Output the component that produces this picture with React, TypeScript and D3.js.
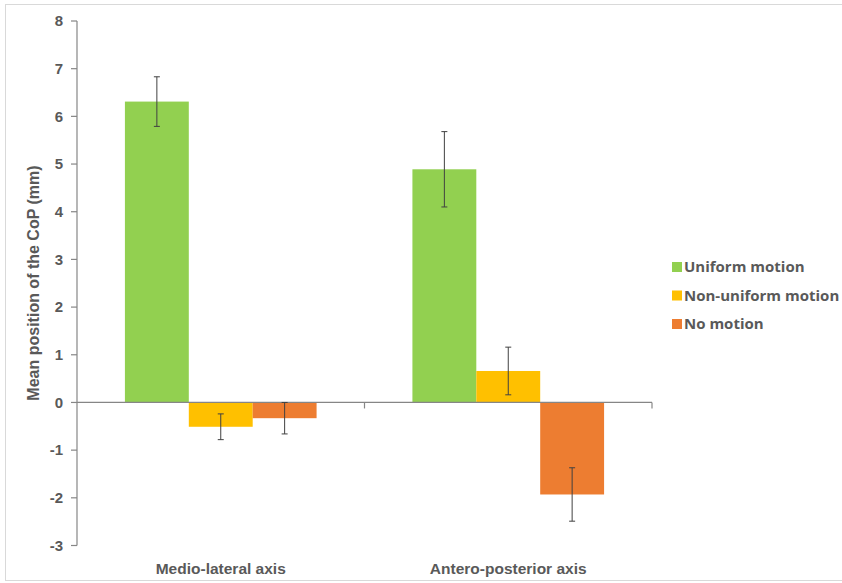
import React from "react";
import * as d3 from "d3";

const categories = ["Medio-lateral axis", "Antero-posterior axis"];
const seriesNames = ["Uniform motion", "Non-uniform motion", "No motion"];
const seriesColors = ["#92D050", "#FFC000", "#ED7D31"];
const uniformValues = [6.31, 4.89];
const nonUniformValues = [-0.51, 0.66];
const noMotionValues = [-0.33, -1.93];
const uniformErr = [0.52, 0.79];
const nonUniformErr = [0.27, 0.5];
const noMotionErr = [0.33, 0.56];
const yTicks = [-3, -2, -1, 0, 1, 2, 3, 4, 5, 6, 7, 8];

const W = 842;
const H = 583;
const axisX0 = 77;
const axisX1 = 652;
const yTop = 21;
const yBottom = 545.5;

export default function App() {
  const y = d3.scaleLinear().domain([-3, 8]).range([yBottom, yTop]);
  const x0 = d3.scaleBand<string>().domain(categories).range([axisX0, axisX1]).paddingInner(0).paddingOuter(0);
  const groupW = x0.bandwidth() * (2 / 3);
  const x1 = d3
    .scaleBand<string>()
    .domain(seriesNames)
    .range([0, groupW])
    .padding(0);
  const values = [uniformValues, nonUniformValues, noMotionValues];
  const errs = [uniformErr, nonUniformErr, noMotionErr];
  const textColor = "#595959";
  const axisColor = "#868686";
  const font = "'Liberation Sans', Arial, sans-serif";

  return (
    <svg
      width={W}
      height={H}
      style={{ position: "absolute", left: 0, top: 0, background: "#fff" }}
      fontFamily={font}
    >
      <rect x={5.5} y={4.5} width={W + 10} height={576} fill="#fff" stroke="#d9d9d9" />
      {/* bars */}
      {categories.map((c, ci) => {
        const gx = (x0(c) as number) + (x0.bandwidth() - groupW) / 2;
        return (
          <g key={c}>
            {seriesNames.map((s, si) => {
              const v = values[si][ci];
              const bx = gx + (x1(s) as number);
              const top = y(Math.max(0, v));
              const h = Math.abs(y(v) - y(0));
              return (
                <rect key={s} x={bx} y={top} width={x1.bandwidth()} height={h} fill={seriesColors[si]} />
              );
            })}
          </g>
        );
      })}
      {/* x axis */}
      <line x1={axisX0} x2={axisX1} y1={y(0)} y2={y(0)} stroke={axisColor} strokeWidth={1.2} />
      {categories.map((c, ci) => {
        const tx = (x0(c) as number) + x0.bandwidth();
        return <line key={c} x1={tx} x2={tx} y1={y(0)} y2={y(0) + 6} stroke={axisColor} strokeWidth={1.2} />;
      })}
      {/* error bars */}
      {categories.map((c, ci) => {
        const gx = (x0(c) as number) + (x0.bandwidth() - groupW) / 2;
        return (
          <g key={c}>
            {seriesNames.map((s, si) => {
              const v = values[si][ci];
              const e = errs[si][ci];
              const cx = gx + (x1(s) as number) + x1.bandwidth() / 2;
              const ya = y(v + e);
              const yb = y(v - e);
              return (
                <g key={s} stroke="#404040" strokeWidth={1}>
                  <line x1={cx} x2={cx} y1={ya} y2={yb} />
                  <line x1={cx - 3} x2={cx + 3} y1={ya} y2={ya} />
                  <line x1={cx - 3} x2={cx + 3} y1={yb} y2={yb} />
                </g>
              );
            })}
          </g>
        );
      })}
      {/* y axis */}
      <line x1={axisX0} x2={axisX0} y1={yTop} y2={yBottom} stroke={axisColor} strokeWidth={1.2} />
      {yTicks.map((t) => (
        <g key={t}>
          <line x1={axisX0 - 6} x2={axisX0} y1={y(t)} y2={y(t)} stroke={axisColor} strokeWidth={1.2} />
          <text
            x={63}
            y={y(t)}
            dy="0.35em"
            textAnchor="end"
            fontSize={15}
            fontWeight="bold"
            fill={textColor}
          >
            {t}
          </text>
        </g>
      ))}
      {/* y axis title */}
      <text
        transform={`translate(39, ${283}) rotate(-90)`}
        textAnchor="middle"
        fontSize={16}
        fontWeight="bold"
        fill={textColor}
      >
        Mean position of the CoP (mm)
      </text>
      {/* category labels */}
      {categories.map((c) => (
        <text
          key={c}
          x={(x0(c) as number) + x0.bandwidth() / 2}
          y={574}
          textAnchor="middle"
          fontSize={15.5}
          fontWeight="bold"
          fill={textColor}
        >
          {c}
        </text>
      ))}
      {/* legend */}
      {seriesNames.map((s, si) => (
        <g key={s} transform={`translate(672, ${267 + si * 28.5})`}>
          <rect x={0} y={-5} width={10} height={10} fill={seriesColors[si]} />
          <text x={12} y={0} dy="0.35em" fontSize={15} fontWeight="bold" fill={textColor} fontFamily="'Open Sans', sans-serif">
            {s}
          </text>
        </g>
      ))}
    </svg>
  );
}
